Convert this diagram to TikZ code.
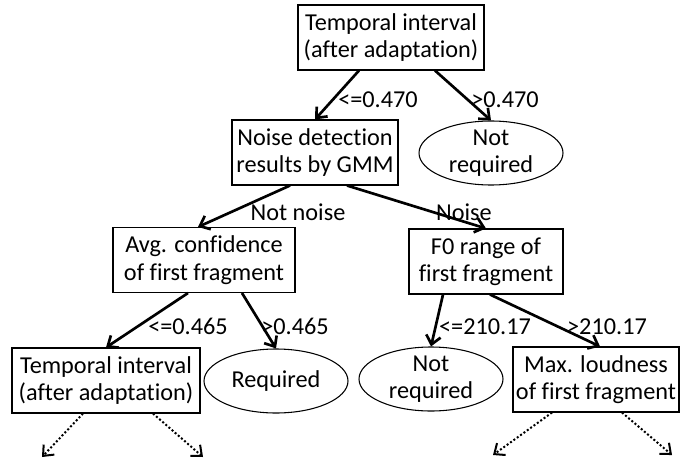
\documentclass[tikz,border=0pt]{standalone}
\usepackage{fontspec}
\setmainfont[Ligatures={NoCommon,NoContextual}]{Carlito}
\usetikzlibrary{calc}
\usetikzlibrary{arrows.meta}
\usetikzlibrary{shapes.geometric}
\tikzset{>={Straight Barb[length=6.5pt,width=11pt]}}
\tikzset{
  box/.style={draw, line width=0.8pt, align=center, minimum height=48.75pt, inner sep=1pt},
  leaf/.style={draw, ellipse, line width=0.8pt, align=center, minimum width=108pt, minimum height=48pt, inner xsep=0pt, inner ysep=-2pt},
  edge/.style={->, line width=2pt},
  cont/.style={->, line width=1.5pt, dash pattern=on 1.5pt off 1.6pt},
  lbl/.style={inner sep=0pt},
}

\begin{document}
\begin{tikzpicture}[x=0.75pt,y=-0.75pt,font=\fontsize{18.2}{20.5}\selectfont]
    \useasboundingbox (0,0) rectangle (680,463);
    \node[box, minimum width=139.5pt] (root) at (391,37.5) {Temporal interval\\(after adaptation)};
    \node[box, minimum width=124.5pt] (noise) at (315,152.5) {Noise detection\\results by GMM};
    \node[leaf] (nr1) at (491,153) {Not\\required};
    \node[box, minimum width=136.5pt] (avg) at (204,260) {Avg. confidence\\of first fragment};
    \node[box, minimum width=115.5pt] (f0) at (486,261.5) {F0 range of\\first fragment};
    \node[box, minimum width=141pt] (temp2) at (106,380.5) {Temporal interval\\(after adaptation)};
    \node[leaf] (req) at (276,381) {Required};
    \node[leaf] (nr2) at (431,379) {Not\\required};
    \node[box, minimum width=124.5pt] (maxl) at (596,379.5) {Max. loudness\\of first fragment};
    \draw[edge] ($(root.south)+(-32,0)$) -- (noise.north);
    \draw[edge] ($(root.south)+(44,0)$) -- (nr1.north);
    \draw[edge] ($(noise.south)+(-25,0)$) -- ($(avg.north)+(-6,0)$);
    \draw[edge] ($(noise.south)+(32,0)$) -- (f0.north);
    \draw[edge] ($(avg.south)+(-16,0)$) -- (temp2.north);
    \draw[edge] ($(avg.south)+(38,0)$) -- (req.north);
    \draw[edge] ($(f0.south)+(-43,0)$) -- (nr2.north);
    \draw[edge] ($(f0.south)+(4,0)$) -- ($(maxl.north)+(4,0)$);
    \node[lbl] (l1) at (378,100) {<=0.470};
    \node[lbl] (l2) at (505,100) {>0.470};
    \node[lbl] (l3) at (298,212) {Not noise};
    \node[lbl] (l4) at (464,212) {Noise};
    \node[lbl] (l5) at (188,326) {<=0.465};
    \node[lbl] (l6) at (295,326) {>0.465};
    \node[lbl] (l7) at (485,327) {<=210.17};
    \node[lbl] (l8) at (607,327) {>210.17};
    % further splits
    \coordinate (t2a) at (42,457);
    \coordinate (t2b) at (203,457);
    \coordinate (mxa) at (493,455);
    \coordinate (mxb) at (672,455);
    \draw[cont] ($(temp2.south)+(-23,0)$) -- (t2a);
    \draw[cont] ($(temp2.south)+(47,0)$) -- (t2b);
    \draw[cont] ($(maxl.south)+(-44,0)$) -- (mxa);
    \draw[cont] ($(maxl.south)+(26,0)$) -- (mxb);
\end{tikzpicture}
\end{document}
